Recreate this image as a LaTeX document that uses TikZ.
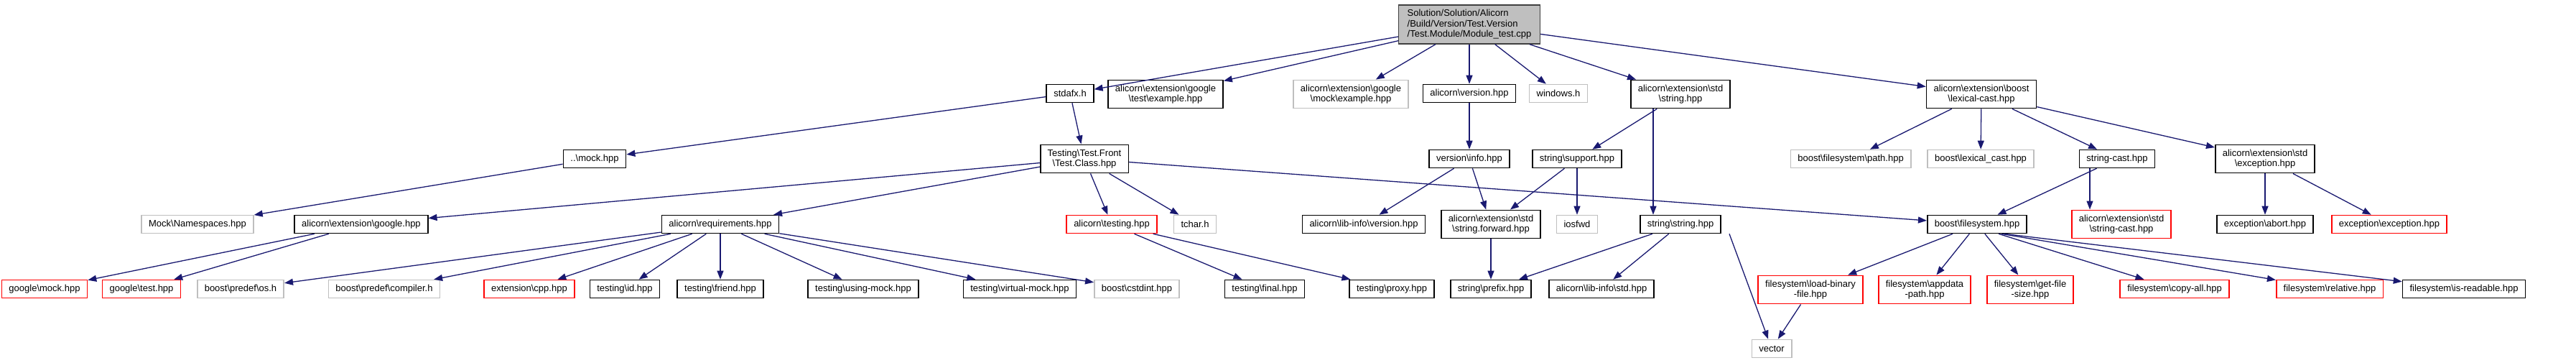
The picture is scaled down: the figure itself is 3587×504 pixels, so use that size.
\documentclass[tikz,border=0pt]{standalone}
\usepackage{fontspec}
\setmainfont{Liberation Sans}
\usetikzlibrary{arrows.meta}
\definecolor{dxgrey}{HTML}{BFBFBF}
\definecolor{dxedge}{HTML}{191970}
\definecolor{dxframe}{HTML}{404040}
\newcommand{\incsep}{\textbackslash}

\begin{document}
\begin{tikzpicture}[x=0.5pt, y=-0.5pt,
        file/.style={draw=black, line width=0.8pt, fill=white, align=center,
                     inner xsep=5pt, inner ysep=3.2pt, minimum height=12.5pt,
                     font=\fontsize{6.5}{7.2}\selectfont},
        nodoc/.style={file, draw=dxgrey},
        trunc/.style={file, draw=red},
        rootfile/.style={file, draw=dxframe, fill=dxgrey, align=left, inner xsep=6pt},
        edge/.style={-{Triangle[length=6pt,width=4.5pt]}, draw=dxedge, line width=0.65pt}
      ]
        \useasboundingbox (0,0) rectangle (3587,504);

        % level 0
        \node[rootfile] (root) at (2046,34) {Solution/Solution/Alicorn\\/Build/Version/Test.Version\\/Test.Module/Module\_test.cpp};

        % level 1
        \node[file]  (stdafx)    at (1490,130) {stdafx.h};
        \node[file]  (gtestex)   at (1623,131) {alicorn\incsep extension\incsep google\\\incsep test\incsep example.hpp};
        \node[nodoc] (gmockex)   at (1881,131) {alicorn\incsep extension\incsep google\\\incsep mock\incsep example.hpp};
        \node[file]  (version)   at (2046,130) {alicorn\incsep version.hpp};
        \node[nodoc] (windows)   at (2170,130) {windows.h};
        \node[file]  (stdstring) at (2340,131) {alicorn\incsep extension\incsep std\\\incsep string.hpp};
        \node[file]  (lexcast)   at (2759,131) {alicorn\incsep extension\incsep boost\\\incsep lexical-cast.hpp};

        % level 2
        \node[file]  (mock)      at (828,221)  {..\incsep mock.hpp};
        \node[file]  (testclass) at (1510,221) {Testing\incsep Test.Front\\\incsep Test.Class.hpp};
        \node[file]  (verinfo)   at (2046,221) {version\incsep info.hpp};
        \node[file]  (support)   at (2196,221) {string\incsep support.hpp};
        \node[nodoc] (fspath)    at (2577,221) {boost\incsep filesystem\incsep path.hpp};
        \node[nodoc] (lexcastb)  at (2758,221) {boost\incsep lexical\_cast.hpp};
        \node[file]  (strcast)   at (2948,221) {string-cast.hpp};
        \node[file]  (stdexc)    at (3154,221) {alicorn\incsep extension\incsep std\\\incsep exception.hpp};

        % level 3
        \node[nodoc] (namespaces) at (275,312)  {Mock\incsep Namespaces.hpp};
        \node[file]  (google)     at (503,312)  {alicorn\incsep extension\incsep google.hpp};
        \node[file]  (require)    at (1003,312) {alicorn\incsep requirements.hpp};
        \node[trunc] (testing)    at (1548,312) {alicorn\incsep testing.hpp};
        \node[nodoc] (tchar)      at (1664,312) {tchar.h};
        \node[file]  (libver)     at (1899,312) {alicorn\incsep lib-info\incsep version.hpp};
        \node[file]  (strfwd)     at (2076,312) {alicorn\incsep extension\incsep std\\\incsep string.forward.hpp};
        \node[nodoc] (iosfwd)     at (2196,312) {iosfwd};
        \node[file]  (sstring)    at (2340,312) {string\incsep string.hpp};
        \node[file]  (boostfs)    at (2753,312) {boost\incsep filesystem.hpp};
        \node[trunc] (stdscast)   at (2954,312) {alicorn\incsep extension\incsep std\\\incsep string-cast.hpp};
        \node[file]  (abort)      at (3154,312) {exception\incsep abort.hpp};
        \node[trunc] (exception)  at (3327,312) {exception\incsep exception.hpp};

        % level 4
        \node[trunc] (gmock)      at (62,402)   {google\incsep mock.hpp};
        \node[trunc] (gtest)      at (197,402)  {google\incsep test.hpp};
        \node[nodoc] (predefos)   at (335,402)  {boost\incsep predef\incsep os.h};
        \node[nodoc] (predefcomp) at (535,402)  {boost\incsep predef\incsep compiler.h};
        \node[trunc] (cpp)        at (737,402)  {extension\incsep cpp.hpp};
        \node[file]  (tid)        at (870,402)  {testing\incsep id.hpp};
        \node[file]  (tfriend)    at (1003,402) {testing\incsep friend.hpp};
        \node[file]  (tusing)     at (1202,402) {testing\incsep using-mock.hpp};
        \node[file]  (tvirtual)   at (1420,402) {testing\incsep virtual-mock.hpp};
        \node[nodoc] (cstdint)    at (1583,402) {boost\incsep cstdint.hpp};
        \node[file]  (tfinal)     at (1761,402) {testing\incsep final.hpp};
        \node[file]  (tproxy)     at (1938,402) {testing\incsep proxy.hpp};
        \node[file]  (prefix)     at (2076,402) {string\incsep prefix.hpp};
        \node[file]  (libstd)     at (2230,402) {alicorn\incsep lib-info\incsep std.hpp};
        \node[trunc] (loadbin)    at (2521,403) {filesystem\incsep load-binary\\-file.hpp};
        \node[trunc] (appdata)    at (2680,403) {filesystem\incsep appdata\\-path.hpp};
        \node[trunc] (filesize)   at (2827,403) {filesystem\incsep get-file\\-size.hpp};
        \node[trunc] (copyall)    at (3028,402) {filesystem\incsep copy-all.hpp};
        \node[trunc] (relative)   at (3244,402) {filesystem\incsep relative.hpp};
        \node[file]  (readable)   at (3431,402) {filesystem\incsep is-readable.hpp};

        % level 5
        \node[nodoc] (vector) at (2467,485) {vector};

        % includes of the test file
        \draw[edge] (root) -- (stdafx);
        \draw[edge] (root) -- (gtestex);
        \draw[edge] (root) -- (gmockex);
        \draw[edge] (root) -- (version);
        \draw[edge] (root) -- (windows);
        \draw[edge] (root) -- (stdstring);
        \draw[edge] (root) -- (lexcast);

        \draw[edge] (stdafx) -- (mock);
        \draw[edge] (stdafx) -- (testclass);
        \draw[edge] (mock) -- (namespaces);

        \draw[edge] (testclass) -- (google);
        \draw[edge] (testclass) -- (require);
        \draw[edge] (testclass) -- (testing);
        \draw[edge] (testclass) -- (tchar);
        \draw[edge] (testclass) -- (boostfs);

        \draw[edge] (google) -- (gmock);
        \draw[edge] (google) -- (gtest);

        \draw[edge] (require) -- (predefos);
        \draw[edge] (require) -- (predefcomp);
        \draw[edge] (require) -- (cpp);
        \draw[edge] (require) -- (tid);
        \draw[edge] (require) -- (tfriend);
        \draw[edge] (require) -- (tusing);
        \draw[edge] (require) -- (tvirtual);
        \draw[edge] (require) -- (cstdint);

        \draw[edge] (testing) -- (tfinal);
        \draw[edge] (testing) -- (tproxy);

        \draw[edge] (version) -- (verinfo);
        \draw[edge] (verinfo) -- (libver);
        \draw[edge] (verinfo) -- (strfwd);

        \draw[edge] (stdstring) -- (support);
        \draw[edge] ([xshift=-19pt]stdstring.south) -- ([xshift=-19pt]sstring.north);
        \draw[edge] (support) -- (strfwd);
        \draw[edge] (support) -- (iosfwd);
        \draw[edge] (strfwd) -- (prefix);
        \draw[edge] (sstring) -- (prefix);
        \draw[edge] (sstring) -- (libstd);
        \draw[edge] ([xshift=34pt]sstring.south) -- (vector);

        \draw[edge] (lexcast) -- (fspath);
        \draw[edge] (lexcast) -- (lexcastb);
        \draw[edge] (lexcast) -- (strcast);
        \draw[edge] (lexcast) -- (stdexc);

        \draw[edge] (strcast) -- (boostfs);
        \draw[edge] ([xshift=-19pt]strcast.south) -- ([xshift=-22pt]stdscast.north);
        \draw[edge] (stdexc) -- (abort);
        \draw[edge] (stdexc) -- (exception);

        \draw[edge] (boostfs) -- (loadbin);
        \draw[edge] (boostfs) -- (appdata);
        \draw[edge] (boostfs) -- (filesize);
        \draw[edge] ([xshift=15pt]boostfs.south) -- (copyall);
        \draw[edge] ([xshift=17pt]boostfs.south) -- (relative);
        \draw[edge] ([xshift=19pt]boostfs.south) -- (readable);
        \draw[edge] (loadbin) -- (vector);
      \end{tikzpicture}
\end{document}
